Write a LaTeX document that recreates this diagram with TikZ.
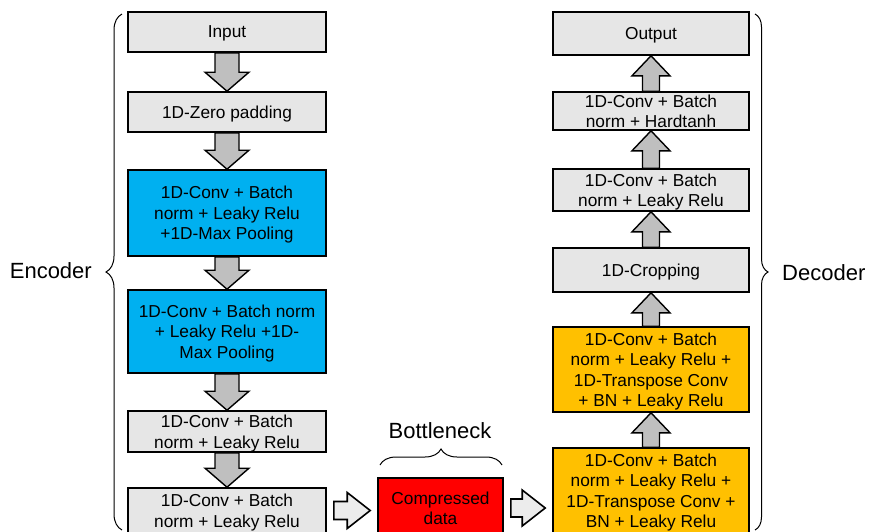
\documentclass[tikz,border=0pt]{standalone}
\usepackage{fontspec}
\setmainfont{Liberation Sans}
\usetikzlibrary{calc,decorations.pathreplacing}

\definecolor{boxgray}{HTML}{E6E6E6}
\definecolor{poolblue}{HTML}{00B0F0}
\definecolor{upsample}{HTML}{FFC000}
\definecolor{arrowgray}{HTML}{BFBFBF}
\definecolor{hollowgray}{HTML}{ECECEC}

\tikzset{
    layer/.style={draw=black, line width=1.6pt, fill=boxgray, inner sep=0pt, text depth=0pt,
        align=center, font=\fontsize{17.3}{20.5}\selectfont},
    enclayer/.style={layer, minimum width=198pt},
    declayer/.style={layer, minimum width=196pt},
    blockarrow/.style={draw=black, line width=1.4pt, fill=arrowgray},
    hollowarrow/.style={draw=black, line width=1.6pt, fill=hollowgray},
    bracket/.style={decorate, decoration={brace, amplitude=#1}, line width=1pt},
    caption/.style={inner sep=0pt, font=\fontsize{22}{26}\selectfont}
}

% fat arrow pointing down, from the bottom of #1 to the top of #2
\newcommand{\downblock}[2]{%
    \draw[blockarrow] ($(#1.south)+(-12,0)$) -- ($(#2.north)+(-12,19)$) -- ++(-10,0)
        -- (#2.north) -- ($(#2.north)+(22,19)$) -- ++(-10,0)
        -- ($(#1.south)+(12,0)$) -- cycle;}

% fat arrow pointing up, from the top of #1 to the bottom of #2
\newcommand{\upblock}[2]{%
    \draw[blockarrow] ($(#1.north)+(-8.5,0)$) -- ($(#2.south)+(-8.5,-20)$) -- ++(-10.5,0)
        -- (#2.south) -- ($(#2.south)+(19,-20)$) -- ++(-10.5,0)
        -- ($(#1.north)+(8.5,0)$) -- cycle;}

% hollow arrow pointing right, between #1 and #2
\newcommand{\sidearrow}[2]{%
    \draw[hollowarrow] ($(#1.east)+(7,9)$) -- ($(#2.west |- #1.east)+(-30,9)$) -- ++(0,9)
        -- ($(#2.west |- #1.east)+(-7,0)$) -- ($(#2.west |- #1.east)+(-30,-18)$) -- ++(0,9)
        -- ($(#1.east)+(7,-9)$) -- cycle;}

\begin{document}
\begin{tikzpicture}[x=1pt, y=1pt]
    \useasboundingbox (0,0) rectangle (870,-531);
    \clip (0,0) rectangle (870,-531);

    % encoder layers
    \node[enclayer, minimum height=40pt] (input) at (227,-32) {Input};
    \node[enclayer, minimum height=40pt] (zeropad) at (227,-112) {1D-Zero padding};
    \node[enclayer, fill=poolblue, minimum height=86pt] (conv1) at (227,-213)
        {1D-Conv + Batch\\norm + Leaky Relu\\+1D-Max Pooling};
    \node[enclayer, fill=poolblue, minimum height=83pt] (conv2) at (227,-331.5)
        {1D-Conv + Batch norm\\+ Leaky Relu +1D-\\Max Pooling};
    \node[enclayer, minimum height=41pt] (conv3) at (227,-431.5)
        {1D-Conv + Batch\\norm + Leaky Relu};
    \node[enclayer, minimum height=45pt] (conv4) at (227,-510.5)
        {1D-Conv + Batch\\norm + Leaky Relu};

    \downblock{input}{zeropad}
    \downblock{zeropad}{conv1}
    \downblock{conv1}{conv2}
    \downblock{conv2}{conv3}
    \downblock{conv3}{conv4}

    % bottleneck
    \node[layer, fill=red, minimum width=125pt, minimum height=60pt] (latent) at (440.5,-508)
        {Compressed\\data};
    \draw[bracket=16pt] (380,-465) -- (502,-465);
    \node[caption] (neck) at (440,-431) {Bottleneck};

    % decoder layers
    \node[declayer, minimum height=43pt] (output) at (651,-33.5) {Output};
    \node[declayer, minimum height=38pt] (deconv6) at (651,-111)
        {1D-Conv + Batch\\norm + Hardtanh};
    \node[declayer, minimum height=42pt] (deconv5) at (651,-190)
        {1D-Conv + Batch\\norm + Leaky Relu};
    \node[declayer, minimum height=44pt] (crop) at (651,-270) {1D-Cropping};
    \node[declayer, fill=upsample, minimum height=85pt] (deconv2) at (651,-369.5)
        {1D-Conv + Batch\\norm + Leaky Relu +\\1D-Transpose Conv\\+ BN + Leaky Relu};
    \node[declayer, fill=upsample, minimum height=85pt] (deconv1) at (651,-490.5)
        {1D-Conv + Batch\\norm + Leaky Relu +\\1D-Transpose Conv +\\BN + Leaky Relu};

    \upblock{deconv1}{deconv2}
    \upblock{deconv2}{crop}
    \upblock{crop}{deconv5}
    \upblock{deconv5}{deconv6}
    \upblock{deconv6}{output}

    % flow through the bottleneck
    \sidearrow{conv4}{latent}
    \sidearrow{latent}{deconv1}

    % braces
    \draw[bracket=16pt] (122,-530) -- (122,-14);
    \node[caption, anchor=east] (enclabel) at (92,-271) {Encoder};
    \draw[bracket=13pt] (755,-14) -- (755,-530);
    \node[caption, anchor=west] (declabel) at (782,-273) {Decoder};
\end{tikzpicture}
\end{document}
